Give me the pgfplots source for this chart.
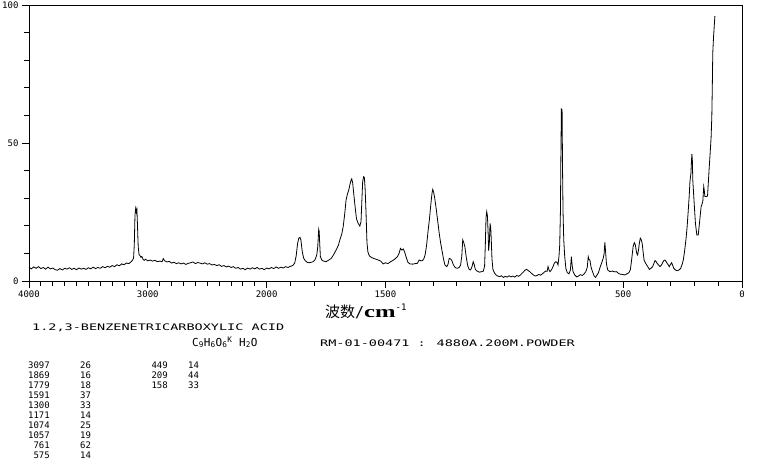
\documentclass[border=0pt]{standalone}
\usepackage{fontspec}
\usepackage{graphicx}
\usepackage{pgfplots}
\pgfplotsset{compat=1.18}
\setmainfont{Liberation Sans}
\newfontfamily\pixfont{DejaVu Sans Mono}
\newfontfamily\widefont[FakeStretch=1.5]{DejaVu Sans Mono}
\newfontfamily\cjk{Noto Sans CJK SC}
\newfontfamily\serifb{Liberation Serif}

\pgfplotstableread{
w I
4000 5.0
3980 4.4
3960 5.1
3940 4.6
3920 5.2
3900 4.5
3880 4.9
3860 4.3
3840 5.0
3820 4.4
3800 4.7
3780 4.1
3760 3.9
3740 4.5
3720 4.0
3700 4.6
3680 4.3
3660 4.8
3640 4.2
3620 4.6
3600 4.1
3580 4.7
3560 4.3
3540 4.6
3520 4.2
3500 4.8
3480 4.4
3460 5.0
3440 4.5
3420 4.9
3400 4.6
3380 5.2
3360 4.8
3340 5.3
3320 5.0
3300 5.6
3280 5.2
3260 5.9
3240 5.5
3220 6.2
3200 5.9
3180 6.5
3160 6.3
3140 7.0
3128 7.6
3120 8.3
3114 13.0
3108 24.0
3102 26.3
3097 25.0
3092 26.0
3087 20.0
3081 12.5
3074 9.6
3066 9.2
3058 8.6
3050 8.9
3040 7.8
3030 7.5
3020 7.9
3000 7.3
2980 7.6
2960 7.2
2940 7.5
2920 7.0
2900 7.2
2880 7.0
2870 8.1
2860 7.4
2840 6.9
2820 7.1
2800 6.5
2780 6.8
2760 6.3
2740 6.6
2720 6.2
2700 6.5
2680 6.0
2660 6.4
2640 6.6
2620 6.9
2600 6.3
2580 6.7
2560 6.5
2540 6.2
2520 6.6
2500 6.1
2480 6.3
2460 5.8
2440 6.0
2420 5.6
2400 5.9
2380 5.3
2360 5.6
2340 5.1
2320 5.4
2300 4.9
2280 5.2
2260 4.6
2240 4.9
2220 4.3
2200 4.6
2180 4.1
2160 4.7
2140 4.3
2120 4.8
2100 4.4
2080 4.9
2060 4.3
2040 4.6
2020 4.1
2000 4.7
1990 4.4
1980 4.9
1970 4.5
1960 5.1
1950 4.6
1940 5.0
1930 4.7
1920 5.2
1910 4.9
1900 5.3
1890 5.6
1882 6.5
1876 9.0
1870 13.5
1865 15.5
1860 15.8
1856 14.9
1850 10.5
1844 8.2
1838 7.4
1830 6.8
1822 6.6
1812 6.8
1804 7.0
1796 7.8
1789 9.5
1785 12.4
1781 18.7
1779 18.0
1777 14.0
1774 8.8
1768 7.6
1760 7.2
1750 7.0
1740 7.5
1728 8.2
1718 9.6
1706 11.5
1698 13.0
1692 14.9
1684 17.0
1678 19.7
1672 24.0
1666 29.3
1660 31.5
1655 32.8
1650 34.8
1645 36.5
1642 37.0
1638 35.5
1634 32.0
1628 27.0
1622 22.5
1615 20.9
1608 19.9
1603 21.5
1599 30.0
1596 36.0
1592 37.8
1589 37.5
1586 34.0
1582 25.0
1578 14.0
1574 10.5
1568 9.1
1560 8.6
1551 8.2
1540 7.9
1530 7.6
1520 7.2
1510 6.2
1500 6.6
1490 6.3
1480 6.9
1470 7.4
1460 8.0
1450 8.8
1443 10.0
1437 11.8
1431 11.2
1425 11.6
1419 10.4
1413 8.6
1406 6.8
1397 6.2
1385 6.1
1375 6.3
1366 6.4
1358 7.6
1350 7.3
1344 7.4
1338 8.2
1333 9.6
1327 13.0
1321 18.0
1315 22.5
1309 28.0
1304 32.0
1301 33.2
1297 32.0
1292 29.5
1286 25.7
1280 21.5
1274 17.3
1268 13.8
1263 11.4
1256 8.0
1250 5.8
1242 5.2
1237 6.0
1232 8.2
1226 8.0
1221 7.4
1214 5.8
1206 4.8
1198 4.6
1190 4.9
1184 5.8
1179 9.0
1175 14.9
1171 14.0
1166 12.4
1160 8.5
1154 5.5
1148 4.2
1142 4.0
1136 5.2
1131 7.0
1127 6.0
1122 4.2
1115 3.6
1105 3.2
1095 3.4
1088 3.6
1083 5.5
1080 13.0
1077 23.0
1074 25.1
1071 23.5
1068 17.0
1066 11.0
1063 14.0
1060 20.9
1057 19.0
1055 15.0
1052 8.0
1048 4.2
1042 3.0
1035 2.2
1028 1.8
1020 1.6
1012 1.9
1004 1.3
996 1.7
988 1.4
980 1.9
972 1.5
964 1.8
956 1.4
948 2.0
940 1.7
932 2.2
925 2.8
918 3.4
912 4.0
906 4.2
900 3.8
893 3.4
886 2.8
878 2.2
870 1.8
862 2.0
855 2.4
848 2.1
840 2.6
832 3.2
826 3.6
820 3.5
816 5.2
812 4.0
808 3.4
802 4.0
796 5.0
790 6.4
784 7.0
779 6.8
774 5.8
770 9.0
767 13.0
764 25.0
762 45.0
760 62.3
757 62.0
755 40.0
753 25.0
750 15.0
746 9.0
741 4.5
735 3.0
728 2.6
722 4.0
718 8.8
715 6.0
711 3.4
704 2.2
696 1.5
688 1.8
680 2.3
672 2.0
664 2.6
657 3.4
651 5.0
647 8.8
644 7.8
640 7.6
635 5.0
629 3.4
622 1.8
616 1.3
610 2.2
604 3.0
597 5.0
591 6.4
584 8.2
580 10.0
577 14.0
574 10.6
570 6.0
565 4.0
556 3.4
545 3.6
535 3.3
528 3.4
520 2.8
514 2.5
505 2.4
493 2.2
484 2.6
476 3.0
470 4.0
466 6.5
462 9.5
458 12.5
453 13.9
449 13.2
446 11.5
442 9.8
439 9.4
435 11.5
432 13.6
428 15.5
424 15.0
420 13.6
416 10.5
412 7.6
406 6.5
401 5.8
395 5.0
390 4.2
383 4.6
376 5.2
370 6.5
366 7.4
361 7.0
357 6.4
351 5.8
345 5.2
339 5.8
334 6.6
329 7.4
324 7.6
319 7.0
315 6.4
310 5.8
306 5.2
301 6.0
296 6.6
291 5.5
287 4.6
280 4.0
273 3.7
265 4.0
258 4.6
252 6.0
247 7.6
242 10.5
236 14.9
231 19.5
226 25.7
222 31.0
219 36.0
215 39.0
211 46.0
209 44.0
207 36.6
202 29.3
196 20.9
190 16.7
184 16.7
179 20.9
172 26.9
165 28.7
161 34.2
159 33.0
156 30.6
150 30.6
145 30.8
141 36.6
138 41.0
134 46.3
130 52.0
127 59.5
125 70.0
123 82.5
120 88.0
117 92.1
114 96.0
}\spectrum

\begin{document}
\begin{tikzpicture}[x=1pt,y=1pt]
\path[use as bounding box] (0,0) rectangle (765,461);
\begin{axis}[
  at={(29pt,180pt)}, anchor=south west,
  scale only axis, width=713pt, height=276pt,
  xmin=0, xmax=3000, ymin=0, ymax=100,
  x dir=reverse,
  axis line style={line width=0.9pt},
  xtick={0,500,1500,2000,2500,3000},
  xticklabels={0,500,1500,2000,3000,4000},
  minor xtick={100,200,300,400,600,700,800,900,1000,1100,1200,1300,1400,1600,1700,1800,1900,2050,2100,2150,2200,2250,2300,2350,2400,2450,2550,2600,2650,2700,2750,2800,2850,2900,2950},
  ytick={0,50,100}, minor y tick num=4,
  tick pos=left,
  tick align=outside, major tick length=7pt, minor tick length=4.5pt,
  every tick/.style={black, line width=0.8pt},
  /pgf/number format/assume math mode=true,
  ticklabel style={font=\pixfont\fontsize{9}{10}\selectfont},
  xticklabel style={yshift=1pt},
]
\addplot[black, line width=0.8pt, mark=none,
  x filter/.expression={x>2000 ? (x+2000)/2 : x}] table[x=w, y=I] {\spectrum};
\end{axis}

\node[anchor=base west, inner sep=0] at (325,144)
  {{\cjk\fontsize{15}{15}\selectfont 波数}{\pixfont\fontsize{15}{15}\selectfont /}{\serifb\bfseries\fontsize{17}{17}\selectfont\scalebox{1.45}[1]{cm}}\raisebox{7pt}{\pixfont\fontsize{9}{9}\selectfont -1}};

\node[anchor=base west, inner sep=0, font=\widefont\fontsize{9}{11}\selectfont] at (32,130.5) {1.2,3-BENZENETRICARBOXYLIC ACID};
\node[anchor=base west, inner sep=0, font=\pixfont\fontsize{11}{12}\selectfont] at (192,115) {C\textsubscript{9}H\textsubscript{6}O\textsubscript{6}\textsuperscript{K} H\textsubscript{2}O};
\node[anchor=base west, inner sep=0, font=\widefont\fontsize{9}{11}\selectfont] at (320,115) {RM-01-00471 : 4880A.200M.POWDER};

\begin{scope}[every node/.style={inner sep=0, font=\pixfont\fontsize{9}{10}\selectfont}]
\foreach \a/\b [count=\i from 0] in {3097/26,1869/16,1779/18,1591/37,1300/33,1171/14,1074/25,1057/19,761/62,575/14} {
  \node[anchor=base east] at (50,{92.3-10*\i}) {\a};
  \node[anchor=base west] at (80,{92.3-10*\i}) {\b};
}
\foreach \a/\b [count=\i from 0] in {449/14,209/44,158/33} {
  \node[anchor=base east] at (168,{92.3-10*\i}) {\a};
  \node[anchor=base west] at (188,{92.3-10*\i}) {\b};
}
\end{scope}
\end{tikzpicture}
\end{document}
